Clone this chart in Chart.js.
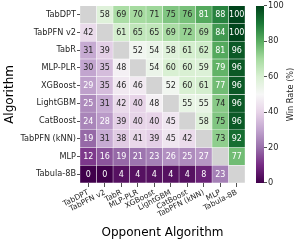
<!DOCTYPE html>
<html>
<head>
<meta charset="utf-8">
<script src="https://cdn.jsdelivr.net/npm/chart.js@4.4.0/dist/chart.umd.min.js"></script>
<style>
  html, body { margin: 0; padding: 0; background: #fff; }
  #wrap { position: relative; width: 297px; height: 242px; }
  #heat { position: absolute; left: 0; top: 0; }
  #cbar { position: absolute; left: 250px; top: 0; }
</style>
</head>
<body>
<div id="wrap">
  <canvas id="heat" width="297" height="242"></canvas>
  <canvas id="cbar" width="47" height="242"></canvas>
</div>
<script>
const algorithms = ['TabDPT', 'TabPFN v2', 'TabR', 'MLP-PLR', 'XGBoost', 'LightGBM', 'CatBoost', 'TabPFN (kNN)', 'MLP', 'Tabula-8B'];

// win rate (%) of the row algorithm against each opponent column, null on the diagonal
const tabdpt   = [null, 58, 69, 70, 71, 75, 76, 81, 88, 100];
const tabpfnV2 = [42, null, 61, 65, 65, 69, 72, 69, 84, 100];
const tabr     = [31, 39, null, 52, 54, 58, 61, 62, 81, 96];
const mlpPlr   = [30, 35, 48, null, 54, 60, 60, 59, 79, 96];
const xgboost  = [29, 35, 46, 46, null, 52, 60, 61, 77, 96];
const lightgbm = [25, 31, 42, 40, 48, null, 55, 55, 74, 96];
const catboost = [24, 28, 39, 40, 40, 45, null, 58, 75, 96];
const tabpfnKnn = [19, 31, 38, 41, 39, 45, 42, null, 73, 92];
const mlp      = [12, 16, 19, 21, 23, 26, 25, 27, null, 77];
const tabula   = [0, 0, 4, 4, 4, 4, 4, 8, 23, null];
const winRates = [tabdpt, tabpfnV2, tabr, mlpPlr, xgboost, lightgbm, catboost, tabpfnKnn, mlp, tabula];

const cbarTicks = [0, 20, 40, 60, 80, 100];

// PRGn colormap stops
const prgn = ['#40004b', '#762a83', '#9970ab', '#c2a5cf', '#e7d4e8', '#f7f7f7',
              '#d9f0d3', '#a6dba0', '#5aae61', '#1b7837', '#00441b'];
const FONT = 'DejaVu Sans';
const INK = '#262626';

function hexRgb(h) {
  return [parseInt(h.slice(1, 3), 16), parseInt(h.slice(3, 5), 16), parseInt(h.slice(5, 7), 16)];
}
function cmap(v) {
  const t = Math.max(0, Math.min(1, v / 100)) * (prgn.length - 1);
  const i = Math.min(prgn.length - 2, Math.floor(t));
  const f = t - i;
  const a = hexRgb(prgn[i]), b = hexRgb(prgn[i + 1]);
  return a.map((c, k) => Math.round(c + (b[k] - c) * f));
}
function cellColor(v) {
  if (v === null) return '#d3d3d3';
  const c = cmap(v);
  return 'rgb(' + c.join(',') + ')';
}
function textColor(v) {
  const lin = cmap(v).map(c => {
    c /= 255;
    return c <= 0.03928 ? c / 12.92 : Math.pow((c + 0.055) / 1.055, 2.4);
  });
  const lum = 0.2126 * lin[0] + 0.7152 * lin[1] + 0.0722 * lin[2];
  return lum > 0.408 ? INK : '#ffffff';
}

const cellText = {
  id: 'cellText',
  afterDatasetsDraw(chart) {
    const ctx = chart.ctx;
    ctx.save();
    ctx.font = '8px "' + FONT + '"';
    ctx.textAlign = 'center';
    ctx.textBaseline = 'middle';
    chart.data.datasets.forEach((ds, j) => {
      chart.getDatasetMeta(j).data.forEach((bar, i) => {
        const v = winRates[i][j];
        if (v === null) return;
        ctx.fillStyle = textColor(v);
        ctx.fillText(String(v), (bar.x + bar.base) / 2, bar.y + 0.5);
      });
    });
    ctx.restore();
  }
};

new Chart(document.getElementById('heat'), {
  type: 'bar',
  data: {
    labels: algorithms,
    datasets: algorithms.map((opp, j) => ({
      label: opp,
      data: winRates.map(() => [j, j + 1]),
      backgroundColor: ctx => cellColor(winRates[ctx.dataIndex][j]),
      borderColor: 'rgba(255,255,255,0.7)',
      borderWidth: 0.5,
      borderSkipped: false,
      barPercentage: 1,
      categoryPercentage: 1,
      grouped: false
    }))
  },
  options: {
    indexAxis: 'y',
    responsive: false,
    animation: false,
    devicePixelRatio: 1,
    layout: { padding: { top: 4, right: 52, left: 0, bottom: 0 } },
    plugins: { legend: { display: false }, tooltip: { enabled: false } },
    scales: {
      x: {
        type: 'linear',
        position: 'bottom',
        min: 0,
        max: 10,
        afterBuildTicks: s => { s.ticks = algorithms.map((_, j) => ({ value: j + 0.5 })); },
        afterFit: s => { s.height = 59; },
        ticks: {
          autoSkip: false,
          minRotation: 27,
          maxRotation: 27,
          padding: 1,
          color: INK,
          font: { family: FONT, size: 7.5 },
          callback: (v, i) => algorithms[i]
        },
        grid: { drawOnChartArea: false, offset: false, tickLength: 4, color: INK, lineWidth: 0.8 },
        border: { display: false },
        title: { display: true, text: 'Opponent Algorithm', color: '#000', font: { family: FONT, size: 12 }, padding: { top: 2, bottom: 2 } }
      },
      y: {
        type: 'category',
        afterFit: s => { s.width = 80; },
        ticks: { color: INK, padding: 1, font: { family: FONT, size: 8.2 } },
        grid: { drawOnChartArea: false, offset: false, tickLength: 3, color: INK, lineWidth: 0.8 },
        border: { display: false },
        title: { display: true, text: 'Algorithm', color: '#000', font: { family: FONT, size: 12 }, padding: { top: 3, bottom: 2 } }
      }
    }
  },
  plugins: [cellText]
});

const cbarTitle = {
  id: 'cbarTitle',
  afterDraw(chart) {
    const ctx = chart.ctx, a = chart.chartArea;
    ctx.save();
    ctx.translate(41, (a.top + a.bottom) / 2);
    ctx.rotate(-Math.PI / 2);
    ctx.font = '8.2px "' + FONT + '"';
    ctx.fillStyle = INK;
    ctx.textAlign = 'center';
    ctx.textBaseline = 'middle';
    ctx.fillText('Win Rate (%)', 0, 0);
    ctx.restore();
  }
};

new Chart(document.getElementById('cbar'), {
  type: 'bar',
  data: {
    labels: [''],
    datasets: [{
      data: [[0, 100]],
      backgroundColor: ctx => {
        const a = ctx.chart.chartArea;
        if (!a) return prgn[5];
        const g = ctx.chart.ctx.createLinearGradient(0, a.bottom, 0, a.top);
        prgn.forEach((c, k) => g.addColorStop(k / (prgn.length - 1), c));
        return g;
      },
      borderWidth: 0,
      barPercentage: 1,
      categoryPercentage: 1
    }]
  },
  options: {
    responsive: false,
    animation: false,
    devicePixelRatio: 1,
    layout: { padding: { top: 4, bottom: 59, left: 6, right: 0 } },
    plugins: { legend: { display: false }, tooltip: { enabled: false } },
    scales: {
      x: { display: false },
      y: {
        position: 'right',
        min: 0,
        max: 100,
        afterBuildTicks: s => { s.ticks = cbarTicks.map(v => ({ value: v })); },
        afterFit: s => { s.width = 33; },
        ticks: { color: INK, padding: 1, font: { family: FONT, size: 8.2 } },
        grid: { drawOnChartArea: false, tickLength: 3, color: INK, lineWidth: 0.8 },
        border: { display: false }
      }
    }
  },
  plugins: [cbarTitle]
});
</script>
</body>
</html>
